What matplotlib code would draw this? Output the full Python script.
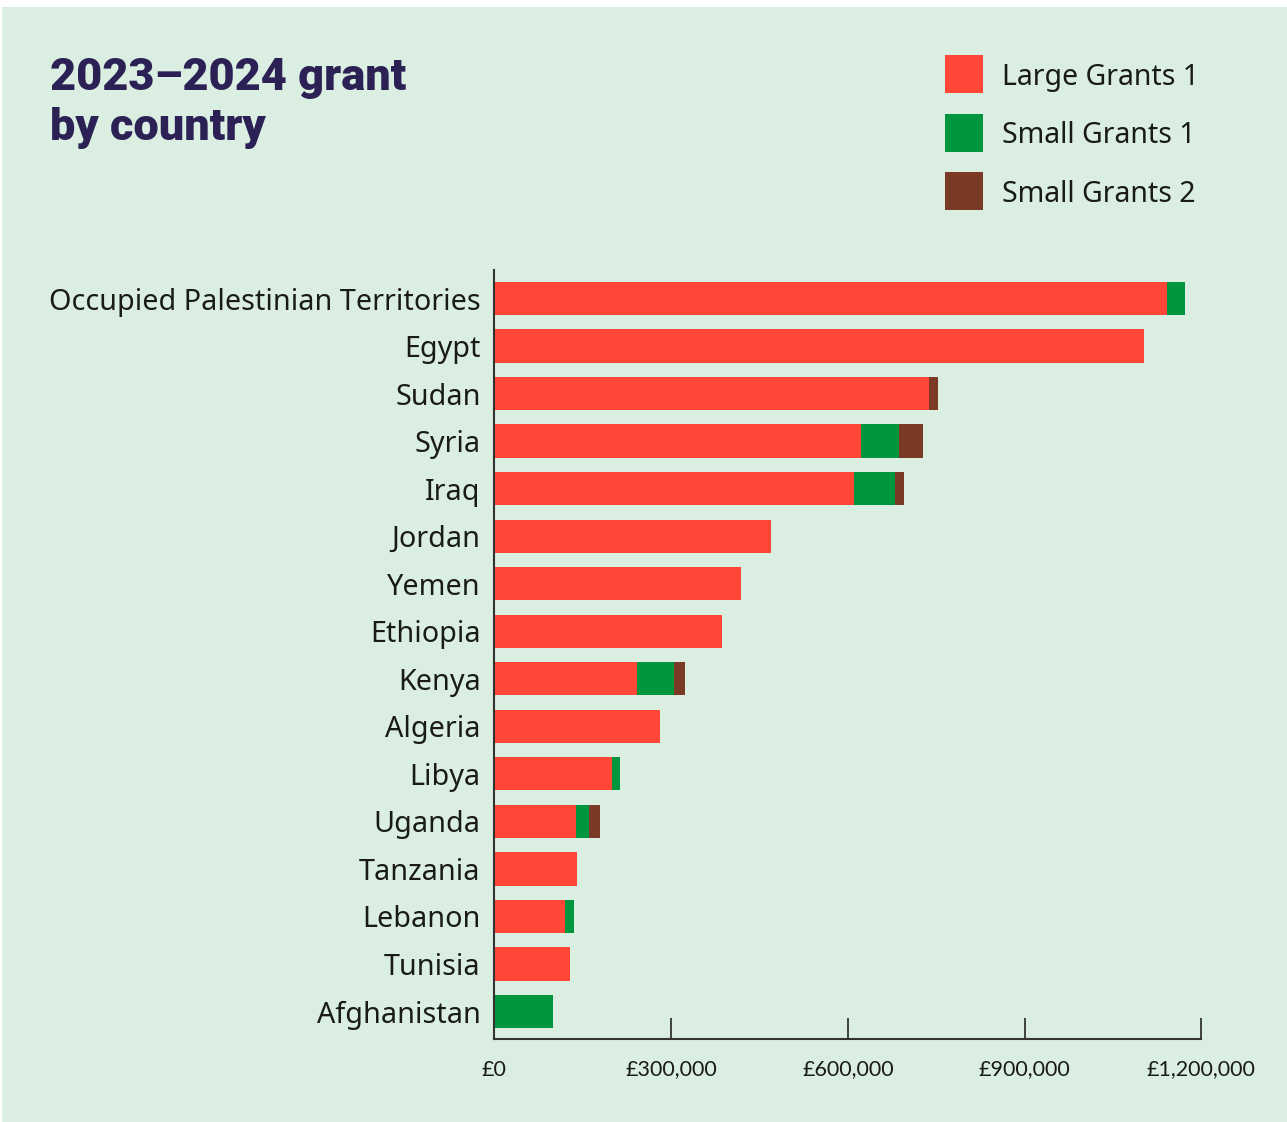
import matplotlib
matplotlib.use("Agg")
import matplotlib.pyplot as plt
from matplotlib.patches import Rectangle
from matplotlib.ticker import FuncFormatter
import numpy as np

countries = ["Occupied Palestinian Territories", "Egypt", "Sudan", "Syria", "Iraq",
             "Jordan", "Yemen", "Ethiopia", "Kenya", "Algeria", "Libya", "Uganda",
             "Tanzania", "Lebanon", "Tunisia", "Afghanistan"]
large_grants_1 = [1142000, 1102000, 738000, 622000, 610000, 470000, 418000, 386000,
                  242000, 281000, 199000, 139000, 140000, 120000, 128000, 0]
small_grants_1 = [31000, 0, 0, 64000, 70000, 0, 0, 0, 62000, 0, 15000, 22000, 0, 15000, 0, 100000]
small_grants_2 = [0, 0, 15000, 41000, 15000, 0, 0, 0, 19000, 0, 0, 18500, 0, 0, 0, 0]
series_names = ["Large Grants 1", "Small Grants 1", "Small Grants 2"]
series_colors = ["#FF4637", "#00963D", "#7B3A25"]
x_ticks = [0, 300000, 600000, 900000, 1200000]
title_lines = ["2023–2024 grant", "by country"]

BG = "#DAEFE2"
TXT = "#1a1a1a"

fig = plt.figure(figsize=(12.87, 11.22), dpi=100, facecolor="white")
fig.add_artist(Rectangle((2/1287, 0), 1 - 2/1287, 1 - 7/1122, transform=fig.transFigure,
                         facecolor=BG, edgecolor="none", zorder=-10))

ax = fig.add_axes([494.4/1287, (1122-1038.7)/1122, (1201.4-494.4)/1287, (1038.7-270)/1122])
ax.set_facecolor("none")

y = np.arange(len(countries))
left = np.zeros(len(countries))
for vals, name, col in zip([large_grants_1, small_grants_1, small_grants_2], series_names, series_colors):
    vals = np.array(vals, dtype=float)
    ax.barh(y, vals, left=left, height=0.7, color=col, label=name, linewidth=0)
    left += vals

ax.set_xlim(0, 1200000)
ax.set_ylim(len(countries) - 1 + 0.572, -0.6)
ax.set_yticks(y)
ax.set_yticklabels(countries, fontsize=20.7, family="Noto Sans", color=TXT)
ax.tick_params(axis="y", length=0, pad=10)
ax.set_xticks(x_ticks)
ax.xaxis.set_major_formatter(FuncFormatter(lambda v, p: "£{:,.0f}".format(v)))
ax.tick_params(axis="x", direction="in", length=15, width=1.3, color="#333333",
               labelsize=15.5, labelcolor=TXT, pad=15)
for lab in ax.get_xticklabels():
    lab.set_family("Lato")
for s in ["top", "right"]:
    ax.spines[s].set_visible(False)
for s in ["left", "bottom"]:
    ax.spines[s].set_color("#333333")
    ax.spines[s].set_linewidth(1.5)

for i, line in enumerate(title_lines):
    fig.text(50/1287, 1 - (90 + i * 50)/1122, line, fontsize=32.5, fontweight="black",
             family="Roboto", color="#2B2155", va="baseline", ha="left")

# legend
for i, (name, col) in enumerate(zip(series_names, series_colors)):
    top = 55 + i * 58.5
    fig.add_artist(Rectangle((945/1287, 1 - (top + 38)/1122), 38/1287, 38/1122,
                             transform=fig.transFigure, facecolor=col, edgecolor="none"))
    fig.text(1002/1287, 1 - (top + 22)/1122, name, fontsize=20.5, family="Noto Sans",
             color=TXT, va="center", ha="left")

fig.savefig("out.png", dpi=100, facecolor="white")
